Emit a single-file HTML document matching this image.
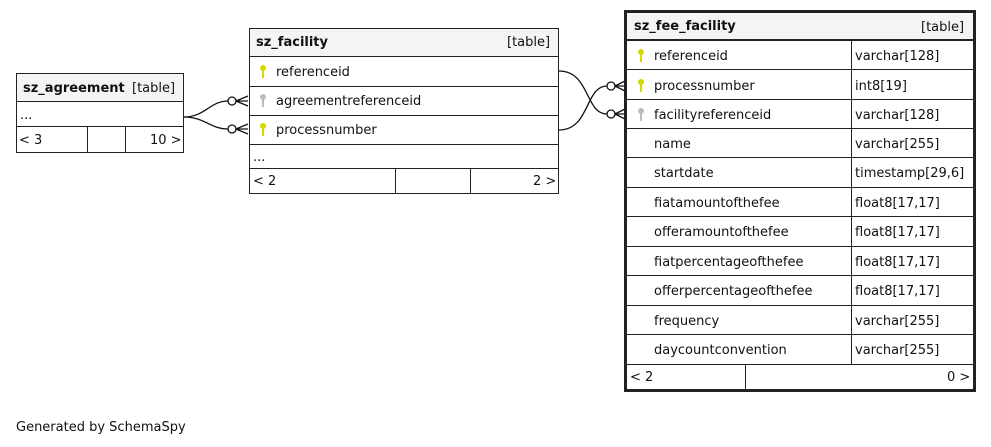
<!DOCTYPE html>
<html><head><style>
body{margin:0;width:991px;height:447px;background:#fff;font-family:"DejaVu Sans","Liberation Sans",sans-serif;font-size:13px;color:#111;position:relative;overflow:hidden}
.b{position:absolute;border:1px solid #222;box-sizing:border-box}
.h{position:absolute;background:#f4f4f4;border-bottom:1px solid #222;box-sizing:border-box}
.t{position:absolute;white-space:nowrap;line-height:16px;margin-top:2px}
.bold{font-weight:bold}
.ln{position:absolute;background:#222}
</style></head><body>

<div class="b" style="left:16px;top:73px;width:168px;height:80px"></div>
<div class="h" style="left:17px;top:74px;width:166px;height:28px"></div>
<div class="t bold" style="left:23px;top:79px">sz_agreement</div>
<div class="t" style="left:132px;top:79px">[table]</div>
<div class="t" style="left:20px;top:106px">...</div>
<div class="ln" style="left:16px;top:126px;width:168px;height:1px"></div>
<div class="ln" style="left:87px;top:126px;width:1px;height:26px"></div>
<div class="ln" style="left:125px;top:126px;width:1px;height:26px"></div>
<div class="t" style="left:19px;top:131px">&lt; 3</div>
<div class="t" style="left:150px;top:131px">10 &gt;</div>

<div class="b" style="left:249px;top:28px;width:310px;height:166px"></div>
<div class="h" style="left:250px;top:29px;width:308px;height:28px"></div>
<div class="t bold" style="left:256px;top:33px">sz_facility</div>
<div class="t" style="left:507px;top:33px">[table]</div>
<div class="ln" style="left:249px;top:86px;width:310px;height:1px"></div>
<div class="ln" style="left:249px;top:115px;width:310px;height:1px"></div>
<div class="ln" style="left:249px;top:144px;width:310px;height:1px"></div>
<div class="ln" style="left:249px;top:168px;width:310px;height:1px"></div>
<div class="t" style="left:276px;top:63px">referenceid</div>
<div class="t" style="left:276px;top:92px">agreementreferenceid</div>
<div class="t" style="left:276px;top:121px">processnumber</div>
<div class="t" style="left:253px;top:148px">...</div>
<div class="ln" style="left:395px;top:168px;width:1px;height:25px"></div>
<div class="ln" style="left:470px;top:168px;width:1px;height:25px"></div>
<div class="t" style="left:253px;top:172px">&lt; 2</div>
<div class="t" style="left:533px;top:172px">2 &gt;</div>

<div class="b" style="left:624px;top:10px;width:352px;height:382px;border-width:3px"></div>
<div class="h" style="left:627px;top:13px;width:346px;height:27px"></div>
<div class="t bold" style="left:634px;top:17px">sz_fee_facility</div>
<div class="t" style="left:921px;top:18px">[table]</div>
<div class="ln" style="left:851px;top:40px;width:1px;height:324px"></div>
<div class="ln" style="left:745px;top:364px;width:1px;height:26px"></div>
<div class="t" style="left:630px;top:368px">&lt; 2</div>
<div class="t" style="left:947px;top:368px">0 &gt;</div>

<svg style="position:absolute;left:0;top:0" width="991" height="447">
<g fill="none" stroke="#111" stroke-width="1.3">
<path d="M184 117 C205 117,210 101,228 101"/>
<path d="M184 117 C205 117,210 129,228 129"/>
<circle cx="232" cy="101" r="4" fill="#fff"/>
<circle cx="232" cy="129" r="4" fill="#fff"/>
<path d="M236 101 L248 96 M236 101 L248 101 M236 101 L248 106"/>
<path d="M236 129 L248 124 M236 129 L248 129 M236 129 L248 134"/>
<path d="M559 71 C590 71,585 114,607 114"/>
<path d="M559 130 C590 130,585 86,607 86"/>
<circle cx="611" cy="86" r="4" fill="#fff"/>
<circle cx="611" cy="114" r="4" fill="#fff"/>
<path d="M615 86 L625 81 M615 86 L625 86 M615 86 L625 91"/>
<path d="M615 114 L625 109 M615 114 L625 114 M615 114 L625 119"/>
</g>
<g>
<circle cx="263" cy="68" r="3" fill="#d6d600"/><rect x="262" y="68" width="2" height="10" fill="#d6d600"/>
<circle cx="263" cy="97" r="3" fill="#bbb"/><rect x="262" y="97" width="2" height="10" fill="#bbb"/>
<circle cx="263" cy="126" r="3" fill="#d6d600"/><rect x="262" y="126" width="2" height="10" fill="#d6d600"/>
<circle cx="641" cy="52" r="3" fill="#d6d600"/><rect x="640" y="52" width="2" height="10" fill="#d6d600"/>
<circle cx="641" cy="82" r="3" fill="#d6d600"/><rect x="640" y="82" width="2" height="10" fill="#d6d600"/>
<circle cx="641" cy="111" r="3" fill="#bbb"/><rect x="640" y="111" width="2" height="10" fill="#bbb"/>
</g>
</svg>

<div class="t" style="left:16px;top:418px">Generated by SchemaSpy</div>

<div class="ln" style="left:624px;top:40px;width:352px;height:1px"></div>
<div class="ln" style="left:624px;top:69px;width:352px;height:1px"></div>
<div class="ln" style="left:624px;top:99px;width:352px;height:1px"></div>
<div class="ln" style="left:624px;top:128px;width:352px;height:1px"></div>
<div class="ln" style="left:624px;top:157px;width:352px;height:1px"></div>
<div class="ln" style="left:624px;top:187px;width:352px;height:1px"></div>
<div class="ln" style="left:624px;top:216px;width:352px;height:1px"></div>
<div class="ln" style="left:624px;top:246px;width:352px;height:1px"></div>
<div class="ln" style="left:624px;top:275px;width:352px;height:1px"></div>
<div class="ln" style="left:624px;top:305px;width:352px;height:1px"></div>
<div class="ln" style="left:624px;top:334px;width:352px;height:1px"></div>
<div class="ln" style="left:624px;top:364px;width:352px;height:1px"></div>

<div class="t" style="left:654px;top:47px">referenceid</div><div class="t" style="left:855px;top:47px">varchar[128]</div>
<div class="t" style="left:654px;top:77px">processnumber</div><div class="t" style="left:855px;top:77px">int8[19]</div>
<div class="t" style="left:654px;top:106px">facilityreferenceid</div><div class="t" style="left:855px;top:106px">varchar[128]</div>
<div class="t" style="left:654px;top:135px">name</div><div class="t" style="left:855px;top:135px">varchar[255]</div>
<div class="t" style="left:654px;top:164px">startdate</div><div class="t" style="left:855px;top:164px">timestamp[29,6]</div>
<div class="t" style="left:654px;top:194px">fiatamountofthefee</div><div class="t" style="left:855px;top:194px">float8[17,17]</div>
<div class="t" style="left:654px;top:223px">offeramountofthefee</div><div class="t" style="left:855px;top:223px">float8[17,17]</div>
<div class="t" style="left:654px;top:253px">fiatpercentageofthefee</div><div class="t" style="left:855px;top:253px">float8[17,17]</div>
<div class="t" style="left:654px;top:282px">offerpercentageofthefee</div><div class="t" style="left:855px;top:282px">float8[17,17]</div>
<div class="t" style="left:654px;top:312px">frequency</div><div class="t" style="left:855px;top:312px">varchar[255]</div>
<div class="t" style="left:654px;top:341px">daycountconvention</div><div class="t" style="left:855px;top:341px">varchar[255]</div>
</body></html>
